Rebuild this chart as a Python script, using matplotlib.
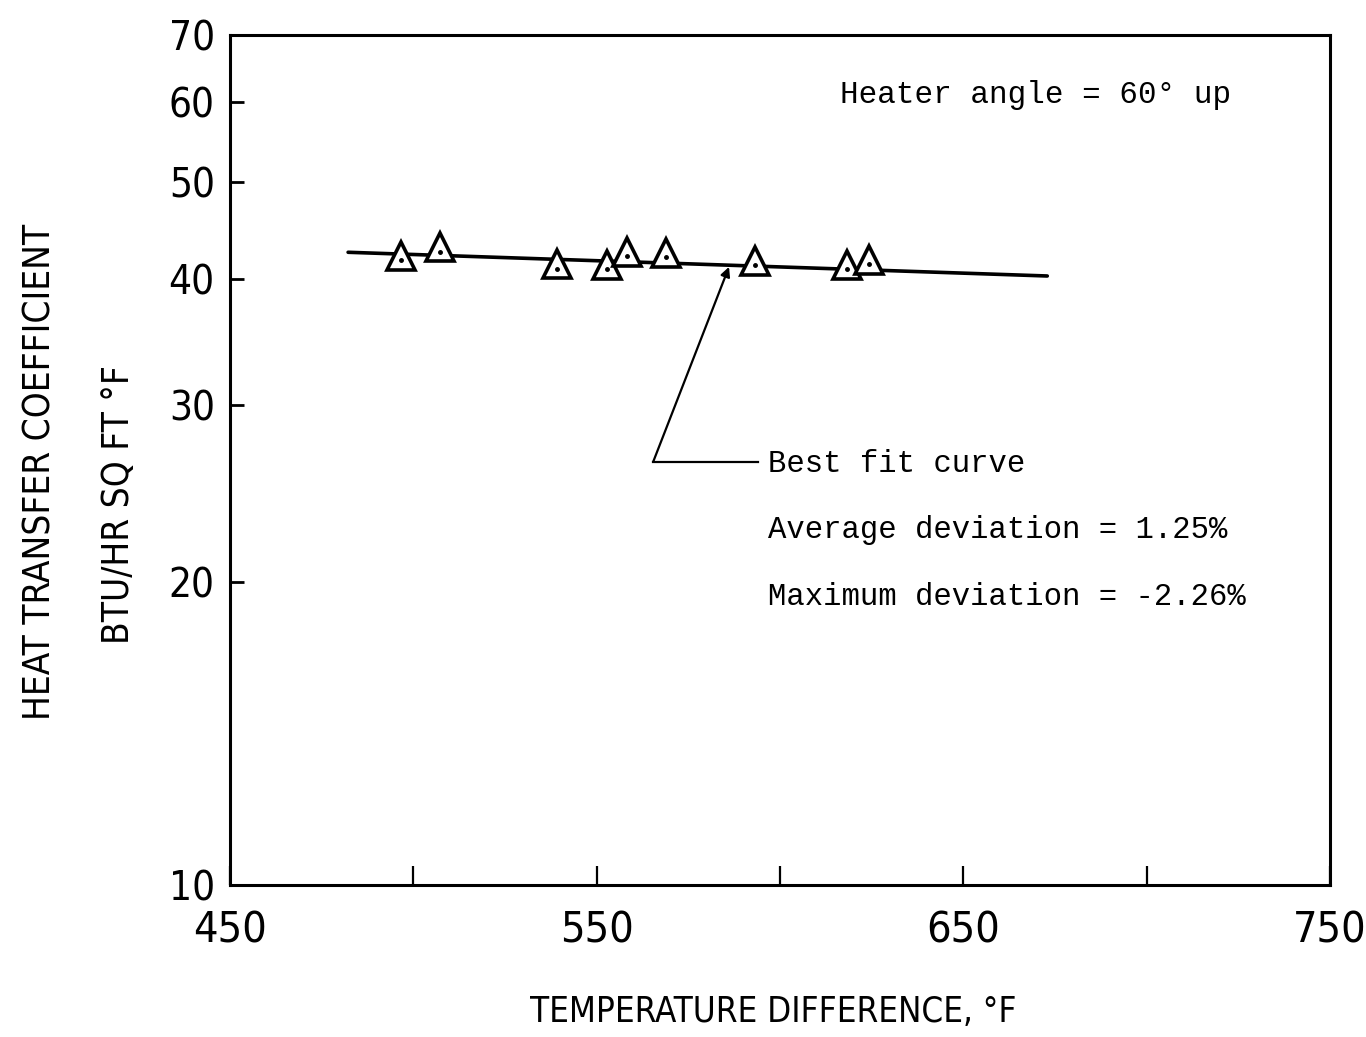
import matplotlib
matplotlib.use("Agg")
import matplotlib.pyplot as plt
from matplotlib import font_manager
from matplotlib.ticker import FixedLocator, FixedFormatter, NullLocator
import matplotlib.transforms as mtrans

# ---- data ----
temp_diff = [496.6, 507.3, 539.1, 552.9, 558.2, 568.9, 593.2, 618.4, 624.4]
htc = [42.2, 43.05, 41.4, 41.37, 42.6, 42.5, 41.75, 41.37, 41.87]
fit_x = [482.2, 672.9]
fit_y = [42.57, 40.32]
xtick_pos = [450, 500, 550, 600, 650, 700, 750]
xtick_labels = ["450", "", "550", "", "650", "", "750"]
ytick_pos = [10, 20, 30, 40, 50, 60, 70]
ytick_labels = ["10", "20", "30", "40", "50", "60", "70"]
arrow_tip = (586.1, 41.17)
arrow_corner = (565.4, 26.34)
leader_end = (594.0, 26.34)

# ---- fonts ----
names = {f.name for f in font_manager.fontManager.ttflist}
if "Liberation Sans Narrow" in names:
    cond = dict(family="Liberation Sans Narrow")
else:
    cond = dict(family="DejaVu Sans", stretch="condensed")
mono = dict(family="Liberation Mono")

fig = plt.figure(figsize=(13.66, 10.37), dpi=100)
ax = fig.add_axes([0.1684, 0.1466, 0.9736 - 0.1684, 0.9662 - 0.1466])
ax.set_yscale("log")
ax.set_xlim(450, 750)
ax.set_ylim(10, 70)

for s in ax.spines.values():
    s.set_linewidth(2.2)

ax.xaxis.set_major_locator(FixedLocator(xtick_pos))
ax.xaxis.set_major_formatter(FixedFormatter(xtick_labels))
ax.yaxis.set_major_locator(FixedLocator(ytick_pos))
ax.yaxis.set_major_formatter(FixedFormatter(ytick_labels))
ax.yaxis.set_minor_locator(NullLocator())
ax.xaxis.set_minor_locator(NullLocator())
ax.tick_params(axis="x", direction="in", length=14, width=1.6, pad=18, labelsize=31)
ax.tick_params(axis="y", direction="in", length=10, width=2.0, pad=11, labelsize=29)
for lab in ax.get_xticklabels() + ax.get_yticklabels():
    lab.set_fontproperties(font_manager.FontProperties(size=lab.get_fontsize(), **cond))

# best-fit line
ax.plot(fit_x, fit_y, color="black", lw=2.6, solid_capstyle="round", zorder=2)
# triangles
ax.plot(temp_diff, htc, linestyle="none", marker="^", markersize=20,
        markerfacecolor="white", markeredgecolor="black", markeredgewidth=2.6, zorder=3)
dot_tr = ax.transData + mtrans.ScaledTranslation(0, -3.0 / 72, fig.dpi_scale_trans)
ax.plot(temp_diff, htc, linestyle="none", marker="o", markersize=2.5,
        color="black", transform=dot_tr, zorder=4)

# leader + arrow
ax.plot([leader_end[0], arrow_corner[0]], [leader_end[1], arrow_corner[1]],
        color="black", lw=1.6, zorder=2)
ax.annotate("", xy=arrow_tip, xytext=arrow_corner,
            arrowprops=dict(arrowstyle="-|>", color="black", lw=1.6,
                            mutation_scale=14, shrinkA=0, shrinkB=0))

ax.text(616.4, 61.0, "Heater angle = 60\u00b0 up", fontsize=22.3, va="center", ha="left", **mono)
ax.text(596.7, 26.2, "Best fit curve", fontsize=22.1, va="center", ha="left", **mono)
ax.text(596.7, 22.54, "Average deviation = 1.25%", fontsize=22.1, va="center", ha="left", **mono)
ax.text(596.7, 19.34, "Maximum deviation = -2.26%", fontsize=22.1, va="center", ha="left", **mono)

fig.text(40 / 1366, 1 - 472 / 1037, "HEAT TRANSFER COEFFICIENT", rotation=90,
         ha="center", va="center", fontsize=26.5, **cond)
fig.text(118 / 1366, 1 - 505 / 1037, "BTU/HR SQ FT \u00b0F", rotation=90,
         ha="center", va="center", fontsize=26.5, **cond)
fig.text(773 / 1366, 1 - 1012 / 1037, "TEMPERATURE DIFFERENCE, \u00b0F",
         ha="center", va="center", fontsize=25, **cond)

fig.savefig("out.png", dpi=100)
